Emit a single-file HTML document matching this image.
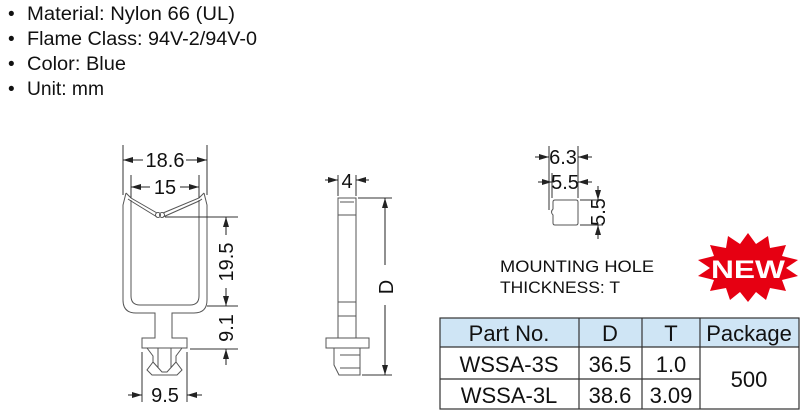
<!DOCTYPE html>
<html><head><meta charset="utf-8"><style>
html,body{margin:0;padding:0;background:#fff;}
svg{display:block;font-family:"Liberation Sans",Arial,sans-serif;}
</style></head><body>
<svg width="800" height="411" viewBox="0 0 800 411" xmlns="http://www.w3.org/2000/svg">
<defs>
<marker id="a" viewBox="0 0 10 6" refX="10" refY="3" markerWidth="10" markerHeight="6" orient="auto-start-reverse" markerUnits="userSpaceOnUse"><path d="M0,0L10,3L0,6z" fill="#222"/></marker>
</defs>
<g font-size="19" fill="#111">
<text x="8" y="20">•</text><text x="27" y="20" textLength="208" lengthAdjust="spacingAndGlyphs">Material: Nylon 66 (UL)</text>
<text x="8" y="45">•</text><text x="27" y="45" textLength="230" lengthAdjust="spacingAndGlyphs">Flame Class: 94V-2/94V-0</text>
<text x="8" y="70">•</text><text x="27" y="70" textLength="99" lengthAdjust="spacingAndGlyphs">Color: Blue</text>
<text x="8" y="95">•</text><text x="27" y="95" textLength="77" lengthAdjust="spacingAndGlyphs">Unit: mm</text>
</g>
<g stroke="#555" stroke-width="1" fill="none">
<path d="M126,193 L123,205 L123,300 Q123,313 136,313 L155,313 L155,338 L142,338 L142,348 L187,348 L187,338 L172,338 L172,313 L194,313 Q207,313 207,300 L207,205 L204,193"/>
<path d="M131,200 L131,296 Q131,305 140,305 L190,305 Q199,305 199,296 L199,200"/>
<path d="M126,193 L131,198 L157,213 M128,199 L131,201 L157,217" />
<path d="M204,193 L199,198 L163,213 M202,199 L199,201 L163,217" />
<circle cx="158" cy="215" r="2.5"/><circle cx="162" cy="215" r="2.5"/>
<path d="M147,348 L153,356 L153,362 L147,370 L152,375 L177,375 L182,370 L176,362 L176,356 L182,348"/>
<path d="M158,348 L158,368 M171,348 L171,368 M153,362 L162,372 L167,372 L176,362"/>
<path d="M123,145 L123,195 M207,145 L207,195 M131,175 L131,198 M199,175 L199,198" stroke="#333"/>
<path d="M142,352 L142,402 M187,352 L187,402" stroke="#333"/>
<path d="M165,217 L238,217 M207,306 L238,306 M190,349 L238,349" stroke="#333"/>
</g>
<g stroke="#222" stroke-width="1" fill="none">
<line x1="143" y1="160" x2="123" y2="160" marker-end="url(#a)"/>
<line x1="186" y1="160" x2="207" y2="160" marker-end="url(#a)"/>
<line x1="150" y1="187" x2="131" y2="187" marker-end="url(#a)"/>
<line x1="180" y1="187" x2="199" y2="187" marker-end="url(#a)"/>
<line x1="226" y1="235" x2="226" y2="217" marker-end="url(#a)"/>
<line x1="226" y1="288" x2="226" y2="306" marker-end="url(#a)"/>
<line x1="226" y1="365" x2="226" y2="349" marker-end="url(#a)"/>
<line x1="128" y1="395" x2="142" y2="395" marker-end="url(#a)"/>
<line x1="202" y1="395" x2="187" y2="395" marker-end="url(#a)"/>
</g>
<g font-size="20" fill="#111" text-anchor="middle">
<text x="165" y="167">18.6</text>
<text x="165" y="194">15</text>
<text x="233" y="262" transform="rotate(-90 233 262)">19.5</text>
<text x="233" y="328" transform="rotate(-90 233 328)">9.1</text>
<text x="165" y="402">9.5</text>
<text x="347" y="188">4</text>
<text x="393" y="287" transform="rotate(-90 393 287)">D</text>
<text x="563" y="164">6.3</text>
<text x="565" y="189">5.5</text>
<text x="605" y="212" transform="rotate(-90 605 212)">5.5</text>
</g>
<g stroke="#555" fill="none">
<path d="M338,198 L356,198 L356,338 L338,338 Z"/>
<path d="M340,202 L354,202 M338,215 L356,215 M338,302 L356,302 M338,316 L356,316"/>
<path d="M326,338 L369,338 L369,348 L326,348 Z"/>
<path d="M334,348 L360,348 L360,375 L339,375 L334,365 Z M340,355 L360,355 M340,368 L360,368"/>
<path d="M338,175 L338,196 M356,175 L356,196 M358,198 L392,198 M362,375 L392,375" stroke="#333"/>
</g>
<g stroke="#222" fill="none">
<line x1="325" y1="180" x2="338" y2="180" marker-end="url(#a)"/>
<line x1="369" y1="180" x2="356" y2="180" marker-end="url(#a)"/>
<line x1="385" y1="265" x2="385" y2="198" marker-end="url(#a)"/>
<line x1="385" y1="305" x2="385" y2="375" marker-end="url(#a)"/>
</g>
<g stroke="#555" fill="none">
<path d="M555,200 L576,200 Q578,200 578,202 L578,223 Q578,225 576,225 L555,225 Q553,225 553,223 L553,215 Q550,212 553,209 L553,202 Q553,200 555,200 Z"/>
<path d="M549,146 L549,210 M578,146 L578,198 M552,173 L552,198 M580,200 L603,200 M580,225 L603,225" stroke="#333"/>
</g>
<g stroke="#222" fill="none">
<line x1="535" y1="157" x2="549" y2="157" marker-end="url(#a)"/>
<line x1="592" y1="157" x2="578" y2="157" marker-end="url(#a)"/>
<line x1="538" y1="182" x2="552" y2="182" marker-end="url(#a)"/>
<line x1="592" y1="182" x2="578" y2="182" marker-end="url(#a)"/>
<line x1="598" y1="186" x2="598" y2="200" marker-end="url(#a)"/>
<line x1="598" y1="239" x2="598" y2="225" marker-end="url(#a)"/>
</g>
<g font-size="17" fill="#111">
<text x="500" y="272" textLength="154" lengthAdjust="spacingAndGlyphs">MOUNTING  HOLE</text>
<text x="500" y="293" textLength="120" lengthAdjust="spacingAndGlyphs">THICKNESS: T</text>
</g>
<polygon fill="#e60012" points="748,233 756,244 768,236 770,248 786,245 782,256 798,260 786,268 798,276 782,280 786,291 770,288 766,300 756,292 748,302 740,292 730,300 726,288 710,291 714,280 698,276 710,268 698,260 714,256 710,245 726,248 728,236 740,244"/>
<text x="748" y="278" font-size="25" font-weight="bold" fill="#fff" text-anchor="middle" textLength="74" lengthAdjust="spacingAndGlyphs">NEW</text>
<rect x="440" y="318" width="359" height="29" fill="#cfe5f5"/>
<g stroke="#333" stroke-width="1.2" fill="none">
<rect x="440" y="318" width="359" height="91"/>
<line x1="440" y1="347" x2="799" y2="347"/>
<line x1="440" y1="379" x2="700" y2="379"/>
<line x1="579" y1="318" x2="579" y2="409"/>
<line x1="642" y1="318" x2="642" y2="409"/>
<line x1="700" y1="318" x2="700" y2="409"/>
</g>
<g font-size="22" fill="#111" text-anchor="middle">
<text x="509" y="341">Part No.</text>
<text x="610" y="341">D</text>
<text x="671" y="341">T</text>
<text x="749" y="341">Package</text>
<text x="509" y="372">WSSA-3S</text>
<text x="610" y="372">36.5</text>
<text x="671" y="372">1.0</text>
<text x="749" y="387">500</text>
<text x="509" y="403">WSSA-3L</text>
<text x="610" y="403">38.6</text>
<text x="671" y="403">3.09</text>
</g>
</svg>
</body></html>
